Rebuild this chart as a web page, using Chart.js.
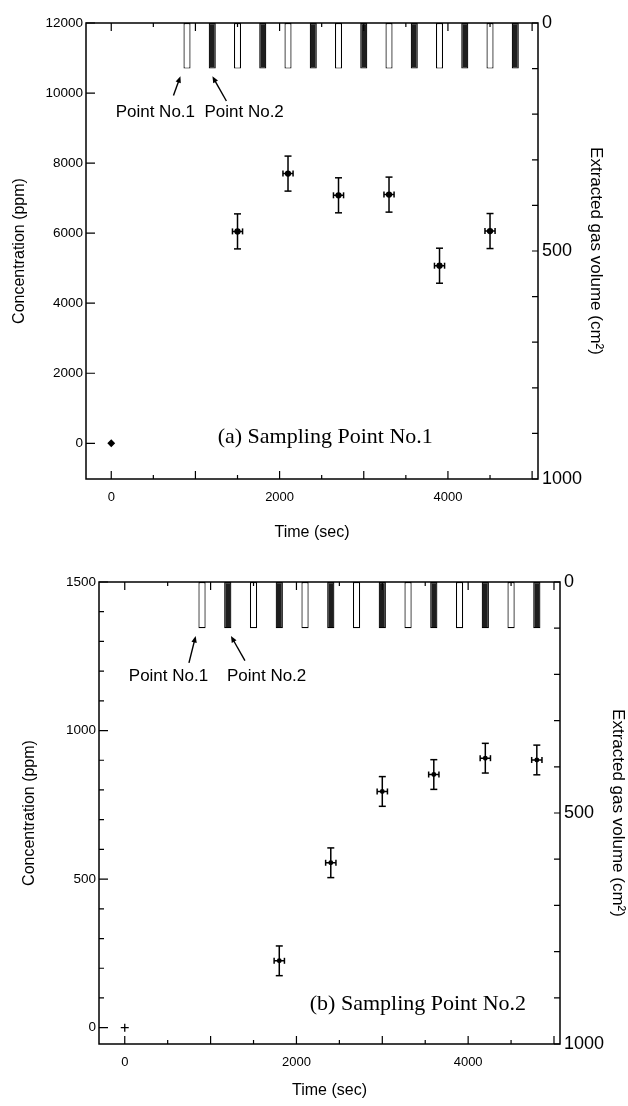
<!DOCTYPE html>
<html>
<head>
<meta charset="utf-8">
<script src="https://cdn.jsdelivr.net/npm/chart.js@4.4.1/dist/chart.umd.min.js"></script>
<style>
  body { margin: 0; background: #fff; }
  canvas { display: block; }
</style>
</head>
<body>
<canvas id="chartA" width="628" height="553"></canvas>
<canvas id="chartB" width="628" height="553"></canvas>
<script>
// extraction pulses (sec) for each sampling point, volume hangs from the top (cm3)
const pointOneTimes = [900, 1500, 2100, 2700, 3300, 3900, 4500];
const pointTwoTimes = [1200, 1800, 2400, 3000, 3600, 4200, 4800];
const pulseVolume = [0, 100];

// (a) Sampling Point No.1
const timesA = [0, 1500, 2100, 2700, 3300, 3900, 4500];
const concA = [0, 6050, 7700, 7080, 7100, 5070, 6060];
const concErrA = [0, 500, 500, 500, 500, 500, 500];
const timeErrA = [0, 60, 60, 60, 60, 60, 60];

// (b) Sampling Point No.2
const timesB = [0, 1800, 2400, 3000, 3600, 4200, 4800];
const concB = [0, 225, 555, 795, 852, 907, 901];
const concErrB = [0, 50, 50, 50, 50, 50, 50];
const timeErrB = [0, 60, 60, 60, 60, 60, 60];

// tick positions and labelled ticks
const timeTicks = [0, 500, 1000, 1500, 2000, 2500, 3000, 3500, 4000, 4500, 5000];
const timeTickLabels = [0, 2000, 4000];
const concTicksA = [0, 2000, 4000, 6000, 8000, 10000, 12000];
const concTickLabelsA = [0, 2000, 4000, 6000, 8000, 10000, 12000];
const concTicksB = [0, 100, 200, 300, 400, 500, 600, 700, 800, 900, 1000, 1100, 1200, 1300, 1400, 1500];
const concTickLabelsB = [0, 500, 1000, 1500];
const volumeTicks = [0, 100, 200, 300, 400, 500, 600, 700, 800, 900, 1000];
const volumeTickLabels = [0, 500, 1000];

Chart.defaults.font.family = '"Liberation Sans", Arial, sans-serif';
Chart.defaults.color = '#000';

// frame plus inward tick marks
const frameTicks = {
  id: 'frameTicks',
  afterDatasetsDraw(chart) {
    const { ctx, chartArea: a, scales } = chart;
    ctx.save();
    ctx.strokeStyle = '#000';
    ctx.lineWidth = 1.5;
    ctx.strokeRect(a.left, a.top, a.right - a.left, a.bottom - a.top);
    ctx.lineWidth = 1.2;
    ctx.beginPath();
    scales.x.ticks.forEach(t => {
      const px = scales.x.getPixelForValue(t.value);
      const len = t.value % 1000 === 0 ? 8 : 4;
      ctx.moveTo(px, a.bottom); ctx.lineTo(px, a.bottom - len);
      ctx.moveTo(px, a.top); ctx.lineTo(px, a.top + len);
    });
    scales.y.ticks.forEach(t => {
      const py = scales.y.getPixelForValue(t.value);
      const len = t.label !== '' ? 9 : 5;
      ctx.moveTo(a.left, py); ctx.lineTo(a.left + len, py);
    });
    scales.y2.ticks.forEach(t => {
      const py = scales.y2.getPixelForValue(t.value);
      ctx.moveTo(a.right, py); ctx.lineTo(a.right - 6, py);
    });
    ctx.stroke();
    ctx.restore();
  }
};

// text notes and arrows, placed on the time / volume scales
const notes = {
  id: 'notes',
  afterDatasetsDraw(chart, args, opts) {
    const { ctx, scales } = chart;
    const px = v => scales.x.getPixelForValue(v);
    const py = v => scales.y2.getPixelForValue(v);
    ctx.save();
    ctx.fillStyle = '#000';
    ctx.strokeStyle = '#000';
    ctx.textBaseline = 'alphabetic';
    (opts.texts || []).forEach(n => {
      ctx.font = n.font;
      ctx.textAlign = n.align;
      ctx.fillText(n.text, px(n.x), py(n.y));
    });
    ctx.lineWidth = 1.4;
    (opts.arrows || []).forEach(r => {
      const x1 = px(r.from[0]), y1 = py(r.from[1]);
      const x2 = px(r.to[0]), y2 = py(r.to[1]);
      const ang = Math.atan2(y2 - y1, x2 - x1);
      ctx.beginPath();
      ctx.moveTo(x1, y1);
      ctx.lineTo(x2 - 4 * Math.cos(ang), y2 - 4 * Math.sin(ang));
      ctx.stroke();
      ctx.beginPath();
      ctx.moveTo(x2, y2);
      ctx.lineTo(x2 - 7 * Math.cos(ang - 0.4), y2 - 7 * Math.sin(ang - 0.4));
      ctx.lineTo(x2 - 7 * Math.cos(ang + 0.4), y2 - 7 * Math.sin(ang + 0.4));
      ctx.closePath();
      ctx.fill();
    });
    ctx.restore();
  }
};

function errorBars(times, conc, cErr, tErr) {
  const vert = [], horiz = [];
  times.forEach((t, i) => {
    if (cErr[i] > 0) {
      vert.push({ x: t, y: conc[i] - cErr[i] }, { x: t, y: conc[i] + cErr[i] }, { x: t, y: null });
    }
    if (tErr[i] > 0) {
      horiz.push({ x: t - tErr[i], y: conc[i] }, { x: t + tErr[i], y: conc[i] }, { x: t, y: null });
    }
  });
  const common = {
    type: 'line', borderColor: '#000', borderWidth: 1.5, pointStyle: 'line',
    pointBorderColor: '#000', pointBorderWidth: 1.5, spanGaps: false, yAxisID: 'y'
  };
  return [
    Object.assign({ data: vert, pointRadius: 3.5 }, common),
    Object.assign({ data: horiz, pointRadius: 3, pointRotation: 90 }, common)
  ];
}

function makeChart(id, cfg) {
  const pulses = (times, fill) => ({
    type: 'bar',
    data: times.map(t => ({ x: t, y: pulseVolume })),
    backgroundColor: fill,
    borderColor: '#000',
    borderWidth: 1.2,
    borderSkipped: false,
    grouped: false,
    barPercentage: 0.28,
    categoryPercentage: 1,
    yAxisID: 'y2'
  });
  const labelFrom = list => v => list.includes(v) ? String(v) : '';
  const setTicks = list => s => { s.ticks = list.map(v => ({ value: v })); };

  return new Chart(document.getElementById(id), {
    type: 'scatter',
    data: {
      datasets: [
        pulses(pointOneTimes, '#ffffff'),
        pulses(pointTwoTimes, '#1e1e1e'),
        ...errorBars(cfg.times, cfg.conc, cfg.concErr, cfg.timeErr),
        {
          type: 'scatter',
          data: cfg.times.map((t, i) => ({ x: t, y: cfg.conc[i] })),
          pointStyle: cfg.times.map(t => t === 0 ? cfg.zeroStyle : 'circle'),
          pointRadius: cfg.times.map(t => t === 0 ? cfg.zeroRadius : cfg.markRadius),
          backgroundColor: '#000',
          borderColor: '#000',
          borderWidth: 1.3,
          yAxisID: 'y'
        }
      ]
    },
    options: {
      responsive: false,
      animation: false,
      events: [],
      layout: { padding: { top: cfg.padTop, left: 0, right: 0, bottom: 0 } },
      plugins: {
        legend: { display: false },
        tooltip: { enabled: false },
        notes: cfg.notes
      },
      scales: {
        x: {
          type: 'linear',
          min: -300, max: 5070,
          offset: false,
          afterBuildTicks: setTicks(timeTicks),
          afterFit: s => { s.height = cfg.xHeight; },
          grid: { display: false, drawTicks: false },
          border: { display: false },
          ticks: {
            autoSkip: false, maxRotation: 0,
            padding: 11, font: { size: 13 },
            callback: labelFrom(timeTickLabels)
          },
          title: { display: true, text: 'Time (sec)', font: { size: 16 }, padding: { top: 0, bottom: cfg.xTitlePad } }
        },
        y: {
          type: 'linear', position: 'left',
          min: cfg.yMin, max: cfg.yMax,
          afterBuildTicks: setTicks(cfg.yTicks),
          afterFit: s => { s.width = cfg.yWidth; },
          grid: { display: false, drawTicks: false },
          border: { display: false },
          ticks: {
            autoSkip: false,
            padding: 3, font: { size: 13.5 },
            callback: labelFrom(cfg.yLabels)
          },
          title: { display: true, text: 'Concentration (ppm)', font: { size: 16 }, padding: { top: cfg.yTitlePad, bottom: 0 } }
        },
        y2: {
          type: 'linear', position: 'right',
          min: 0, max: 1000, reverse: true,
          afterBuildTicks: setTicks(volumeTicks),
          afterFit: s => { s.width = cfg.y2Width; },
          grid: { display: false, drawTicks: false },
          border: { display: false },
          ticks: {
            autoSkip: false, padding: 4, font: { size: 18 },
            callback: labelFrom(volumeTickLabels)
          },
          title: { display: true, text: 'Extracted gas volume (cm²)', font: { size: 17 }, padding: { top: cfg.y2TitlePad, bottom: 0 } }
        }
      }
    },
    plugins: [frameTicks, notes]
  });
}

makeChart('chartA', {
  times: timesA, conc: concA, concErr: concErrA, timeErr: timeErrA,
  zeroStyle: 'rectRot', zeroRadius: 3, markRadius: 2.5,
  yMin: -1020, yMax: 12000, yTicks: concTicksA, yLabels: concTickLabelsA,
  padTop: 23, xHeight: 74, yWidth: 86, y2Width: 90,
  xTitlePad: 11, yTitlePad: 10, y2TitlePad: 22,
  notes: {
    texts: [
      { text: 'Point No.1', x: 52, y: 207, align: 'left', font: '17px "Liberation Sans", Arial, sans-serif' },
      { text: 'Point No.2', x: 1107, y: 207, align: 'left', font: '17px "Liberation Sans", Arial, sans-serif' },
      { text: '(a) Sampling Point No.1', x: 2542, y: 921, align: 'center', font: '22px "Liberation Serif", "Times New Roman", serif' }
    ],
    arrows: [
      { from: [739, 159], to: [822, 117] },
      { from: [1368, 171], to: [1202, 117] }
    ]
  }
});

makeChart('chartB', {
  times: timesB, conc: concB, concErr: concErrB, timeErr: timeErrB,
  zeroStyle: 'cross', zeroRadius: 4, markRadius: 1.8,
  yMin: -55, yMax: 1500, yTicks: concTicksB, yLabels: concTickLabelsB,
  padTop: 29, xHeight: 62, yWidth: 99, y2Width: 68,
  xTitlePad: 6, yTitlePad: 20, y2TitlePad: 0,
  notes: {
    texts: [
      { text: 'Point No.1', x: 47, y: 215, align: 'left', font: '17px "Liberation Sans", Arial, sans-serif' },
      { text: 'Point No.2', x: 1190, y: 215, align: 'left', font: '17px "Liberation Sans", Arial, sans-serif' },
      { text: '(b) Sampling Point No.2', x: 3415, y: 926, align: 'center', font: '22px "Liberation Serif", "Times New Roman", serif' }
    ],
    arrows: [
      { from: [748, 175], to: [826, 117] },
      { from: [1400, 170], to: [1237, 117] }
    ]
  }
});
</script>
</body>
</html>
